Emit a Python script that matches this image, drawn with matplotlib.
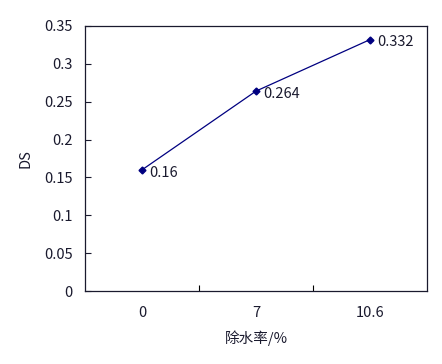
import matplotlib
matplotlib.use("Agg")
import matplotlib.pyplot as plt

plt.rcParams['font.family'] = ['Noto Sans CJK SC', 'DejaVu Sans']

categories = ['0', '7', '10.6']
ds_values = [0.16, 0.264, 0.332]
y_ticks = [0, 0.05, 0.1, 0.15, 0.2, 0.25, 0.3, 0.35]
y_ticklabels = ['0', '0.05', '0.1', '0.15', '0.2', '0.25', '0.3', '0.35']

text_color = '#1a1a2e'
line_color = '#000080'
fs = 10.5

fig = plt.figure(figsize=(4.42, 3.64), dpi=100)
ax = fig.add_axes([0.1923, 0.2005, 0.7737, 0.7281])

x = list(range(len(categories)))
ax.plot(x, ds_values, color=line_color, lw=0.9, marker='D', markersize=3.5,
        markerfacecolor=line_color, markeredgecolor=line_color)
for xi, v in zip(x, ds_values):
    ax.annotate(f'{v:g}', (xi, v), xytext=(5, -2), textcoords='offset points',
                ha='left', va='center', fontsize=fs, color=text_color)

ax.set_xlim(-0.5, len(categories) - 0.5)
ax.set_ylim(0, 0.35)
ax.set_yticks(y_ticks)
ax.set_yticklabels(y_ticklabels)
ax.set_xticks(x)
ax.set_xticklabels(categories)
ax.set_xticks([0.5, 1.5], minor=True)

ax.tick_params(axis='y', direction='in', length=4, width=0.8, pad=9,
               labelsize=fs, colors=text_color)
ax.tick_params(axis='x', which='major', length=0, pad=11, labelsize=fs,
               colors=text_color)
ax.tick_params(axis='x', which='minor', direction='in', length=4, width=0.8)

for s in ax.spines.values():
    s.set_color(text_color)
    s.set_linewidth(0.9)

ax.set_ylabel('DS', fontsize=fs, color=text_color, labelpad=8)
ax.set_xlabel('除水率/%', fontsize=fs, color=text_color, labelpad=7)

fig.savefig('out.png', dpi=100)
